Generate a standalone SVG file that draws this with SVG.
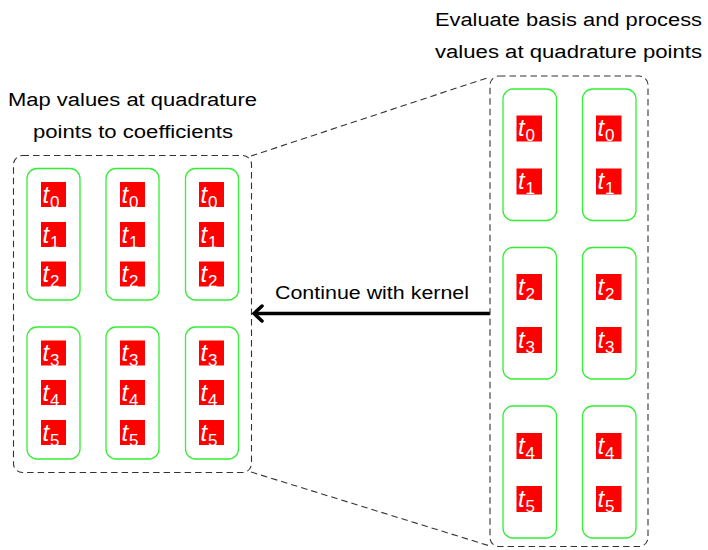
<svg xmlns="http://www.w3.org/2000/svg" width="708" height="550" viewBox="0 0 708 550">
<style>
.lbl{font-family:"Liberation Sans",Arial,sans-serif;font-size:18px;fill:#000}
.grp{fill:none;stroke:#333;stroke-width:1.1;stroke-dasharray:6.5,4}
.conn{fill:none;stroke:#333;stroke-width:1.1;stroke-dasharray:6.5,4}
.warp{fill:none;stroke:#33ee33;stroke-width:1.3}
.sq{fill:#ff0000}
.tv{font-family:"Liberation Sans",Arial,sans-serif;font-style:italic;font-size:24px;fill:#fff}
.ts{font-family:"Liberation Sans",Arial,sans-serif;font-size:17px;fill:#fff}
</style>
<rect width="708" height="550" fill="#fff"/>
<g id="labels">
<text class="lbl" x="8" y="106" textLength="249" lengthAdjust="spacingAndGlyphs">Map values at quadrature</text>
<text class="lbl" x="33" y="138" textLength="200" lengthAdjust="spacingAndGlyphs">points to coefficients</text>
<text class="lbl" x="435" y="26" textLength="267" lengthAdjust="spacingAndGlyphs">Evaluate basis and process</text>
<text class="lbl" x="435" y="58" textLength="267" lengthAdjust="spacingAndGlyphs">values at quadrature points</text>
</g>
<g id="connectors">
<path class="conn" d="M251,156 L490,77"/>
<path class="conn" d="M251,472 L490,546"/>
<path d="M490,313.5 L256,313.5" stroke="#000" stroke-width="3.5" fill="none"/>
<path d="M262,306 L254,313.5 L262,321" stroke="#000" stroke-width="3.5" fill="none" stroke-linecap="round" stroke-linejoin="miter"/>
<text class="lbl" x="275" y="299" textLength="194" lengthAdjust="spacingAndGlyphs">Continue with kernel</text>
</g>
<g id="left-block">
<rect class="grp" x="13.5" y="155.5" width="238" height="317" rx="9"/>
<g id="left-warps">
<rect class="warp" x="27" y="168.5" width="53" height="131.5" rx="10"/>
<rect class="warp" x="106" y="168.5" width="53" height="131.5" rx="10"/>
<rect class="warp" x="185.5" y="168.5" width="53" height="131.5" rx="10"/>
<rect class="warp" x="27" y="327" width="53" height="132" rx="10"/>
<rect class="warp" x="106" y="327" width="53" height="132" rx="10"/>
<rect class="warp" x="185.5" y="327" width="53" height="132" rx="10"/>
</g>
<g id="left-col1">
<rect class="sq" x="41" y="182" width="25" height="25"/><text class="tv" x="42.5" y="202.5">t</text><text class="ts" x="50" y="207.5">0</text>
<rect class="sq" x="41" y="222" width="25" height="25"/><text class="tv" x="42.5" y="242.5">t</text><text class="ts" x="50" y="247.5">1</text>
<rect class="sq" x="41" y="261.5" width="25" height="25"/><text class="tv" x="42.5" y="282">t</text><text class="ts" x="50" y="287">2</text>
<rect class="sq" x="41" y="340.5" width="25" height="25"/><text class="tv" x="42.5" y="361">t</text><text class="ts" x="50" y="366">3</text>
<rect class="sq" x="41" y="380" width="25" height="25"/><text class="tv" x="42.5" y="400.5">t</text><text class="ts" x="50" y="405.5">4</text>
<rect class="sq" x="41" y="420" width="25" height="25"/><text class="tv" x="42.5" y="440.5">t</text><text class="ts" x="50" y="445.5">5</text>
</g>
<g id="left-col2">
<rect class="sq" x="120" y="182" width="25" height="25"/><text class="tv" x="121.5" y="202.5">t</text><text class="ts" x="129" y="207.5">0</text>
<rect class="sq" x="120" y="222" width="25" height="25"/><text class="tv" x="121.5" y="242.5">t</text><text class="ts" x="129" y="247.5">1</text>
<rect class="sq" x="120" y="261.5" width="25" height="25"/><text class="tv" x="121.5" y="282">t</text><text class="ts" x="129" y="287">2</text>
<rect class="sq" x="120" y="340.5" width="25" height="25"/><text class="tv" x="121.5" y="361">t</text><text class="ts" x="129" y="366">3</text>
<rect class="sq" x="120" y="380" width="25" height="25"/><text class="tv" x="121.5" y="400.5">t</text><text class="ts" x="129" y="405.5">4</text>
<rect class="sq" x="120" y="420" width="25" height="25"/><text class="tv" x="121.5" y="440.5">t</text><text class="ts" x="129" y="445.5">5</text>
</g>
<g id="left-col3">
<rect class="sq" x="199" y="182" width="25" height="25"/><text class="tv" x="200.5" y="202.5">t</text><text class="ts" x="208" y="207.5">0</text>
<rect class="sq" x="199" y="222" width="25" height="25"/><text class="tv" x="200.5" y="242.5">t</text><text class="ts" x="208" y="247.5">1</text>
<rect class="sq" x="199" y="261.5" width="25" height="25"/><text class="tv" x="200.5" y="282">t</text><text class="ts" x="208" y="287">2</text>
<rect class="sq" x="199" y="340.5" width="25" height="25"/><text class="tv" x="200.5" y="361">t</text><text class="ts" x="208" y="366">3</text>
<rect class="sq" x="199" y="380" width="25" height="25"/><text class="tv" x="200.5" y="400.5">t</text><text class="ts" x="208" y="405.5">4</text>
<rect class="sq" x="199" y="420" width="25" height="25"/><text class="tv" x="200.5" y="440.5">t</text><text class="ts" x="208" y="445.5">5</text>
</g>
</g>
<g id="right-block">
<rect class="grp" x="490" y="76" width="158" height="470.5" rx="9"/>
<g id="right-warps">
<rect class="warp" x="503" y="89" width="53.5" height="131.5" rx="10"/>
<rect class="warp" x="582.5" y="89" width="53.5" height="131.5" rx="10"/>
<rect class="warp" x="503" y="247.5" width="53.5" height="131.5" rx="10"/>
<rect class="warp" x="582.5" y="247.5" width="53.5" height="131.5" rx="10"/>
<rect class="warp" x="503" y="406" width="53.5" height="132" rx="10"/>
<rect class="warp" x="582.5" y="406" width="53.5" height="132" rx="10"/>
</g>
<g id="right-col1">
<rect class="sq" x="516.5" y="115.5" width="25.5" height="26"/><text class="tv" x="518" y="136">t</text><text class="ts" x="525.5" y="141">0</text>
<rect class="sq" x="516.5" y="168.5" width="25.5" height="26"/><text class="tv" x="518" y="189">t</text><text class="ts" x="525.5" y="194">1</text>
<rect class="sq" x="516.5" y="274" width="25.5" height="26"/><text class="tv" x="518" y="294.5">t</text><text class="ts" x="525.5" y="299.5">2</text>
<rect class="sq" x="516.5" y="327" width="25.5" height="26"/><text class="tv" x="518" y="347.5">t</text><text class="ts" x="525.5" y="352.5">3</text>
<rect class="sq" x="516.5" y="433" width="25.5" height="26"/><text class="tv" x="518" y="453.5">t</text><text class="ts" x="525.5" y="458.5">4</text>
<rect class="sq" x="516.5" y="486" width="25.5" height="26"/><text class="tv" x="518" y="506.5">t</text><text class="ts" x="525.5" y="511.5">5</text>
</g>
<g id="right-col2">
<rect class="sq" x="596" y="115.5" width="25.5" height="26"/><text class="tv" x="597.5" y="136">t</text><text class="ts" x="605" y="141">0</text>
<rect class="sq" x="596" y="168.5" width="25.5" height="26"/><text class="tv" x="597.5" y="189">t</text><text class="ts" x="605" y="194">1</text>
<rect class="sq" x="596" y="274" width="25.5" height="26"/><text class="tv" x="597.5" y="294.5">t</text><text class="ts" x="605" y="299.5">2</text>
<rect class="sq" x="596" y="327" width="25.5" height="26"/><text class="tv" x="597.5" y="347.5">t</text><text class="ts" x="605" y="352.5">3</text>
<rect class="sq" x="596" y="433" width="25.5" height="26"/><text class="tv" x="597.5" y="453.5">t</text><text class="ts" x="605" y="458.5">4</text>
<rect class="sq" x="596" y="486" width="25.5" height="26"/><text class="tv" x="597.5" y="506.5">t</text><text class="ts" x="605" y="511.5">5</text>
</g>
</g>
</svg>
